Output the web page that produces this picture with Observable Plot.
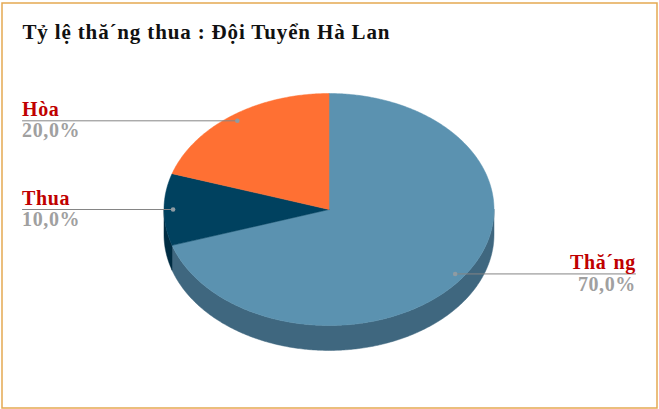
<!DOCTYPE html>
<html>
<head>
<meta charset="utf-8">
<script src="https://cdn.jsdelivr.net/npm/d3@7"></script>
<script src="https://cdn.jsdelivr.net/npm/@observablehq/plot@0.6"></script>
<style>
html,body{margin:0;padding:0;background:#fff;overflow:hidden}
svg{display:block}
svg text{letter-spacing:0.6px}
svg .chart-title text{letter-spacing:0.85px}
</style>
</head>
<body>
<div id="chart"></div>
<script>
const titleText = "Tỷ lệ thă´ng thua : Đội Tuyển Hà Lan";
const categories = ["Thă´ng", "Thua", "Hòa"];
const shares = [70, 10, 20];
const percentLabels = ["70,0%", "10,0%", "20,0%"];
const topColors = ["#5B92B0", "#00415F", "#FF7033"];
const sideColors = ["#3F677F", "#002D43", "#B34E24"];

const TAU = 2 * Math.PI;
const total = d3.sum(shares);
const depth = 0.215;      // pie thickness, in y-scale units
const dotRadius = 0.945;  // leader dot, as a share of the radius
const labelReach = 1.86;  // leader end, in x-scale units

const at = (a, r = 1, dy = 0) => ({x: r * Math.sin(a), y: r * Math.cos(a) - dy});
const arcPts = (a0, a1, dy = 0) => {
  const n = Math.max(2, Math.ceil((a1 - a0) / 0.01));
  return d3.range(n + 1).map((i) => at(a0 + (a1 - a0) * i / n, 1, dy));
};

let cum = 0;
const slices = categories.map((name, i) => {
  const a0 = cum / total * TAU;
  cum += shares[i];
  const a1 = cum / total * TAU;
  return {name, i, a0, a1, mid: (a0 + a1) / 2};
});

const faces = slices.flatMap((s) =>
  [{x: 0, y: 0}, ...arcPts(s.a0, s.a1), {x: 0, y: 0}].map((p) => ({...p, k: s.i, c: topColors[s.i]}))
);
const walls = slices.flatMap((s) => {
  const lo = Math.max(s.a0, TAU / 4), hi = Math.min(s.a1, 3 * TAU / 4);
  if (lo >= hi) return [];
  const pts = [...arcPts(lo, hi), ...arcPts(lo, hi, depth).reverse()];
  return [...pts, pts[0]].map((p) => ({...p, k: s.i, c: sideColors[s.i]}));
});

const labels = slices.map((s) => {
  const d = at(s.mid, dotRadius);
  const right = d.x > 0;
  return {
    name: s.name, pct: percentLabels[s.i],
    x1: d.x, y: d.y,
    x2: right ? labelReach : -labelReach,
    anchor: right ? "end" : "start"
  };
});
const font = "'Liberation Serif', serif";
const textMark = (rows, field, color, dy) => Plot.text(rows, {
  x: "x2", y: "y", text: field, fill: color, textAnchor: (rows[0] || {}).anchor,
  dy, fontFamily: font, fontWeight: "bold", fontSize: 20, lineAnchor: "middle"
});
const leftLabels = labels.filter((d) => d.anchor === "start");
const rightLabels = labels.filter((d) => d.anchor === "end");

const chart = Plot.plot({
  width: 659, height: 409,
  marginLeft: 1.5, marginRight: 2.5, marginTop: 2.5, marginBottom: 1.5,
  x: {domain: [-1, 1], range: [163.5, 493.5], axis: null},
  y: {domain: [-1, 1], range: [325, 93], axis: null},
  style: {background: "#fff"},
  marks: [
    Plot.frame({stroke: "#E5A951", strokeWidth: 1.5, fill: "#fff"}),
    Plot.line(walls, {x: "x", y: "y", z: "k", fill: "c", stroke: "c", strokeWidth: 0.5}),
    Plot.line(faces, {x: "x", y: "y", z: "k", fill: "c", stroke: "c", strokeWidth: 0.5}),
    Plot.link(labels, {x1: "x1", y1: "y", x2: "x2", y2: "y", stroke: "#858585", strokeWidth: 1}),
    Plot.dot(labels, {x: "x1", y: "y", r: 2.3, fill: "#8E9BA3", stroke: null}),
    textMark(leftLabels, "name", "#C00000", -11),
    textMark(leftLabels, "pct", "#A0A0A0", 10),
    textMark(rightLabels, "name", "#C00000", -11),
    textMark(rightLabels, "pct", "#A0A0A0", 11),
    Plot.text([titleText], {
      className: "chart-title",
      frameAnchor: "top-left", dx: 20.5, dy: 21, text: (d) => d, fill: "#111",
      fontFamily: font, fontWeight: "bold", fontSize: 21, lineAnchor: "top"
    })
  ]
});
document.getElementById("chart").append(chart);
</script>
</body>
</html>
